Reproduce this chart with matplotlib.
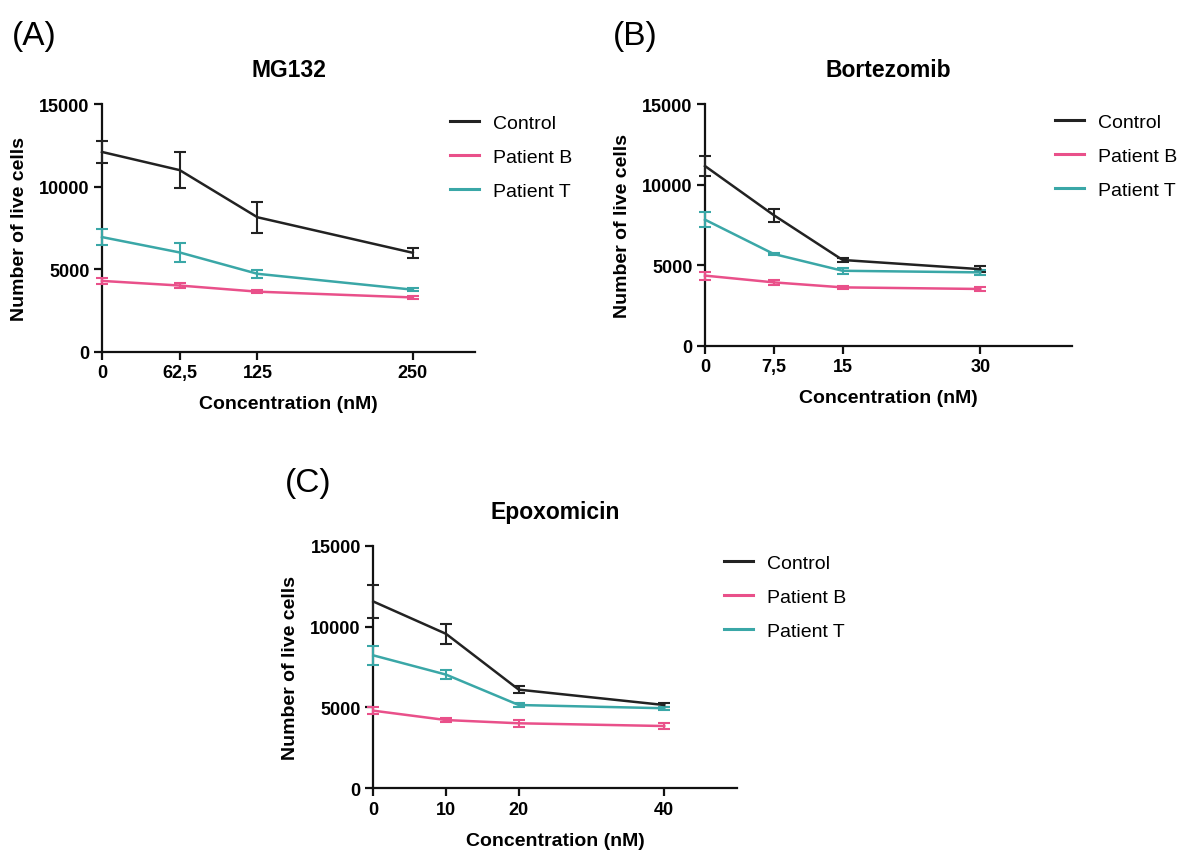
import matplotlib
matplotlib.use("Agg")
import matplotlib.pyplot as plt
from matplotlib.lines import Line2D

plt.rcParams['font.family'] = ['Liberation Sans', 'DejaVu Sans']

# ---- data ----
series_names = ["Control", "Patient B", "Patient T"]
colors = ["#222222", "#E9508A", "#3AA7A7"]

mg_conc = [0, 62.5, 125, 250]
mg_ticklabels = ["0", "62,5", "125", "250"]
mg_control = [12100, 11000, 8150, 6000]
mg_control_err = [650, 1100, 950, 300]
mg_patB = [4300, 4020, 3650, 3300]
mg_patB_err = [200, 150, 80, 100]
mg_patT = [6950, 6020, 4730, 3770]
mg_patT_err = [480, 600, 250, 100]

bz_conc = [0, 7.5, 15, 30]
bz_ticklabels = ["0", "7,5", "15", "30"]
bz_control = [11150, 8100, 5320, 4750]
bz_control_err = [600, 400, 100, 200]
bz_patB = [4350, 3930, 3620, 3520]
bz_patB_err = [250, 150, 100, 150]
bz_patT = [7820, 5690, 4650, 4550]
bz_patT_err = [480, 80, 200, 150]

ep_conc = [0, 10, 20, 40]
ep_ticklabels = ["0", "10", "20", "40"]
ep_control = [11550, 9550, 6100, 5150]
ep_control_err = [1050, 620, 200, 150]
ep_patB = [4800, 4220, 4020, 3850]
ep_patB_err = [200, 150, 200, 200]
ep_patT = [8220, 7030, 5150, 4950]
ep_patT_err = [600, 300, 100, 100]

yticks = [0, 5000, 10000, 15000]

fig = plt.figure(figsize=(11.77, 8.54), dpi=100)

def make_panel(rect, title, conc, ticklabels, xmax, data, errs, letter, letter_pos, legend_pos):
    ax = fig.add_axes(rect)
    for name, col, y, e in zip(series_names, colors, data, errs):
        ax.errorbar(conc, y, yerr=e, color=col, lw=1.8, capsize=4, capthick=1.5,
                    elinewidth=1.5, label=name, clip_on=False, zorder=3)
    ax.set_xlim(0, xmax)
    ax.set_ylim(0, 15000)
    ax.set_xticks(conc)
    ax.set_xticklabels(ticklabels)
    ax.set_yticks(yticks)
    ax.set_yticklabels([str(v) for v in yticks])
    for s in ['top', 'right']:
        ax.spines[s].set_visible(False)
    for s in ['left', 'bottom']:
        ax.spines[s].set_linewidth(1.6)
        ax.spines[s].set_color('#111111')
    ax.tick_params(width=1.6, length=6, labelsize=13, color='#111111', pad=3)
    for lab in ax.get_xticklabels() + ax.get_yticklabels():
        lab.set_fontweight('bold')
    ax.set_xlabel("Concentration (nM)", fontsize=14, fontweight='bold', labelpad=10)
    ax.set_ylabel("Number of live cells", fontsize=14, fontweight='bold', labelpad=8)
    ax.set_title(title, fontsize=16.5, fontweight='bold', pad=20)
    hs = [Line2D([0], [0], color=c, lw=2.2) for c in colors]
    ax.legend(hs, series_names, loc='upper left', bbox_to_anchor=legend_pos,
              bbox_transform=fig.transFigure, frameon=False, fontsize=14,
              handlelength=1.5, handletextpad=0.7, labelspacing=0.85, borderpad=0,
              borderaxespad=0)
    fig.text(letter_pos[0], letter_pos[1], letter, fontsize=24, ha='left', va='center')
    return ax

W, H = 1177, 854
def rect(l, t, r, b):
    return [l / W, 1 - b / H, (r - l) / W, (b - t) / H]

make_panel(rect(102, 105, 475, 353), "MG132", mg_conc, mg_ticklabels, 300,
           [mg_control, mg_patB, mg_patT], [mg_control_err, mg_patB_err, mg_patT_err],
           "(A)", (12 / W, 1 - 36 / H), (450 / W, 1 - 115 / H))
make_panel(rect(705, 105, 1072, 346.7), "Bortezomib", bz_conc, bz_ticklabels, 40,
           [bz_control, bz_patB, bz_patT], [bz_control_err, bz_patB_err, bz_patT_err],
           "(B)", (613 / W, 1 - 36 / H), (1055 / W, 1 - 114 / H))
make_panel(rect(373.3, 546.7, 737, 789.3), "Epoxomicin", ep_conc, ep_ticklabels, 50,
           [ep_control, ep_patB, ep_patT], [ep_control_err, ep_patB_err, ep_patT_err],
           "(C)", (285 / W, 1 - 484 / H), (724 / W, 1 - 555 / H))

fig.savefig("out.png", dpi=100)
